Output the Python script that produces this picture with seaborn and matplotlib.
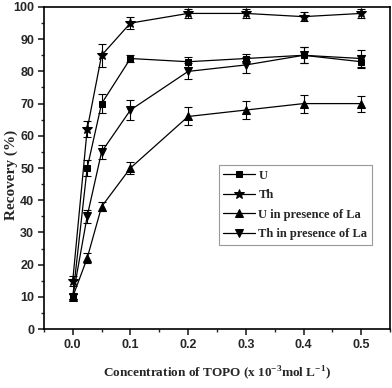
import matplotlib
matplotlib.use("Agg")
import matplotlib.pyplot as plt
from matplotlib.ticker import MultipleLocator
import numpy as np
import pandas as pd
import seaborn as sns

# concentration of TOPO (x 10^-3 mol/L)
conc = [0.0, 0.025, 0.05, 0.1, 0.2, 0.3, 0.4, 0.5]

# recovery (%) for each system
u_rec = [10, 50, 70, 84, 83, 84, 85, 83]
th_rec = [15, 62, 85, 95, 98, 98, 97, 98]
u_la_rec = [10, 22, 38, 50, 66, 68, 70, 70]
th_la_rec = [10, 35, 55, 68, 80, 82, 85, 84]

# error bars (+/-)
u_err = [0.8, 2.5, 3.0, 1.2, 1.5, 1.5, 2.5, 2.0]
th_err = [1.5, 2.5, 3.5, 1.8, 1.5, 1.5, 1.5, 1.5]
u_la_err = [0.8, 1.5, 1.5, 2.0, 2.8, 2.8, 2.8, 2.5]
th_la_err = [0.8, 2.0, 2.2, 3.0, 2.5, 2.5, 2.5, 2.5]

labels = ["U", "Th", "U in presence of La", "Th in presence of La"]
markers = ["s", "*", "^", "v"]
sizes = [5, 7, 5.5, 5.5]

rows = []
for lab, ys, es in zip(labels, [u_rec, th_rec, u_la_rec, th_la_rec],
                       [u_err, th_err, u_la_err, th_la_err]):
    for x, y, e in zip(conc, ys, es):
        rows.append({"conc": x, "recovery": y, "err": e, "series": lab})
df = pd.DataFrame(rows)

sns.set_style("ticks")
fig = plt.figure(figsize=(3.92, 3.88), dpi=100)
ax = fig.add_axes([0.112, 0.152, 0.883, 0.830])

for lab, m, ms in zip(labels, markers, sizes):
    d = df[df["series"] == lab]
    ax.errorbar(d["conc"], d["recovery"], yerr=d["err"], fmt="none",
                ecolor="black", elinewidth=0.8, capsize=3, capthick=0.8)
    sns.lineplot(data=d, x="conc", y="recovery", ax=ax, color="black",
                 marker=m, markersize=ms, markeredgecolor="black",
                 linewidth=0.9, label=lab, errorbar=None)

ax.set_xlim(-0.05, 0.55)
ax.set_ylim(0, 100)
ax.xaxis.set_major_locator(MultipleLocator(0.1))
ax.xaxis.set_minor_locator(MultipleLocator(0.05))
ax.yaxis.set_major_locator(MultipleLocator(10))
ax.yaxis.set_minor_locator(MultipleLocator(5))
ax.set_xticks([0.0, 0.1, 0.2, 0.3, 0.4, 0.5])
ax.set_xticklabels(["0.0", "0.1", "0.2", "0.3", "0.4", "0.5"])
ax.tick_params(which="major", direction="out", length=4, width=1.2,
               labelsize=9, pad=3)
ax.tick_params(which="minor", direction="out", length=2.5, width=1.0)
for t in ax.get_xticklabels() + ax.get_yticklabels():
    t.set_fontweight("bold")
    t.set_family("Liberation Sans")
for s in ax.spines.values():
    s.set_visible(True)
    s.set_linewidth(1.2)
    s.set_color("black")

ax.set_xlabel(r"Concentration of TOPO (x 10$^{\mathregular{-3}}$mol L$^{\mathregular{-1}}$)",
              fontsize=9.5, fontweight="bold", family="Liberation Serif",
              labelpad=10)
ax.set_ylabel("Recovery (%)", fontsize=11, fontweight="bold",
              family="Liberation Serif")
ax.yaxis.set_label_coords(-0.075, 0.478)

leg = ax.legend(loc="lower right", bbox_to_anchor=(0.947, 0.262),
                prop={"family": "Liberation Serif", "weight": "bold",
                      "size": 9},
                frameon=True, fancybox=False, edgecolor="gray",
                handlelength=2.5, borderpad=0.35, labelspacing=0.6,
                handletextpad=0.3, borderaxespad=0)
leg.get_frame().set_linewidth(0.8)

fig.savefig("out.png", dpi=100)
